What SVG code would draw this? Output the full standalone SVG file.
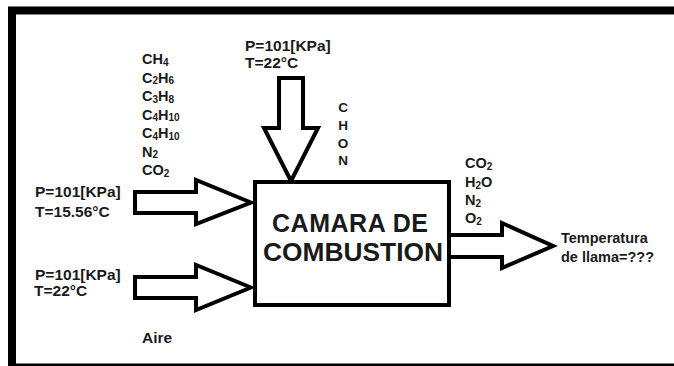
<svg xmlns="http://www.w3.org/2000/svg" width="674" height="366" viewBox="0 0 674 366">
<style>
text{font-family:"Liberation Sans",Arial,sans-serif;font-weight:bold;fill:#1a1a1a}
.lbl{font-size:15.5px}
.f{font-size:14.5px}
.c{font-size:13.5px}
.s{font-size:10px}
.big{font-size:25px}
.shape{fill:#fff;stroke:#000;stroke-width:4;stroke-linejoin:miter}
</style>
<rect x="0" y="0" width="674" height="366" fill="#fff"/>
<rect x="12" y="10.5" width="700" height="357" fill="none" stroke="#000" stroke-width="8"/>
<g id="connectors">
<path class="shape" d="M279,78 L303,78 L303,128 L318,128 L291,181 L264,128 L279,128 Z"/>
<path class="shape" d="M135,192 L196,192 L196,180 L251,202.5 L196,224 L196,213 L135,213 Z"/>
<path class="shape" d="M135,277 L196,277 L196,265 L251,287.5 L196,310 L196,298 L135,298 Z"/>
<path class="shape" d="M451,235 L502,235 L502,223 L553,246 L502,268 L502,257 L451,257"/>
</g>
<g id="camara">
<rect class="shape" x="255" y="182" width="194" height="123"/>
<text class="big" x="272" y="232" textLength="156" lengthAdjust="spacing">CAMARA DE</text>
<text class="big" x="263" y="261" textLength="180" lengthAdjust="spacingAndGlyphs">COMBUSTION</text>
</g>
<g id="fuel-label">
<text class="f" x="142" y="64">CH<tspan class="s" dy="1.5">4</tspan></text>
<text class="f" x="142" y="82.5">C<tspan class="s" dy="1.5">2</tspan><tspan dy="-1.5">H</tspan><tspan class="s" dy="1.5">6</tspan></text>
<text class="f" x="142" y="101">C<tspan class="s" dy="1.5">3</tspan><tspan dy="-1.5">H</tspan><tspan class="s" dy="1.5">8</tspan></text>
<text class="f" x="142" y="119.5">C<tspan class="s" dy="1.5">4</tspan><tspan dy="-1.5">H</tspan><tspan class="s" dy="1.5">10</tspan></text>
<text class="f" x="142" y="138">C<tspan class="s" dy="1.5">4</tspan><tspan dy="-1.5">H</tspan><tspan class="s" dy="1.5">10</tspan></text>
<text class="f" x="142" y="156.5">N<tspan class="s" dy="1.5">2</tspan></text>
<text class="f" x="142" y="175">CO<tspan class="s" dy="1.5">2</tspan></text>
</g>
<g id="top-input">
<text class="lbl" x="245" y="51">P=101[KPa]</text>
<text class="lbl" x="245" y="68">T=22°C</text>
</g>
<g id="chon">
<text class="c" x="343" y="112" text-anchor="middle">C</text>
<text class="c" x="343" y="130" text-anchor="middle">H</text>
<text class="c" x="343" y="148" text-anchor="middle">O</text>
<text class="c" x="343" y="165" text-anchor="middle">N</text>
</g>
<g id="fuel-input">
<text class="lbl" x="35" y="197">P=101[KPa]</text>
<text class="lbl" x="35" y="217">T=15.56°C</text>
</g>
<g id="air-input">
<text class="lbl" x="35" y="280">P=101[KPa]</text>
<text class="lbl" x="34" y="296">T=22°C</text>
<text class="lbl" x="142" y="343">Aire</text>
</g>
<g id="products">
<text class="f" x="465" y="168">CO<tspan class="s" dy="1.5">2</tspan></text>
<text class="f" x="465" y="187">H<tspan class="s" dy="1.5">2</tspan><tspan dy="-1.5">O</tspan></text>
<text class="f" x="465" y="205">N<tspan class="s" dy="1.5">2</tspan></text>
<text class="f" x="465" y="223">O<tspan class="s" dy="1.5">2</tspan></text>
</g>
<g id="output">
<text class="f" x="561" y="243">Temperatura</text>
<text class="f" x="561" y="262">de llama=???</text>
</g>
</svg>
